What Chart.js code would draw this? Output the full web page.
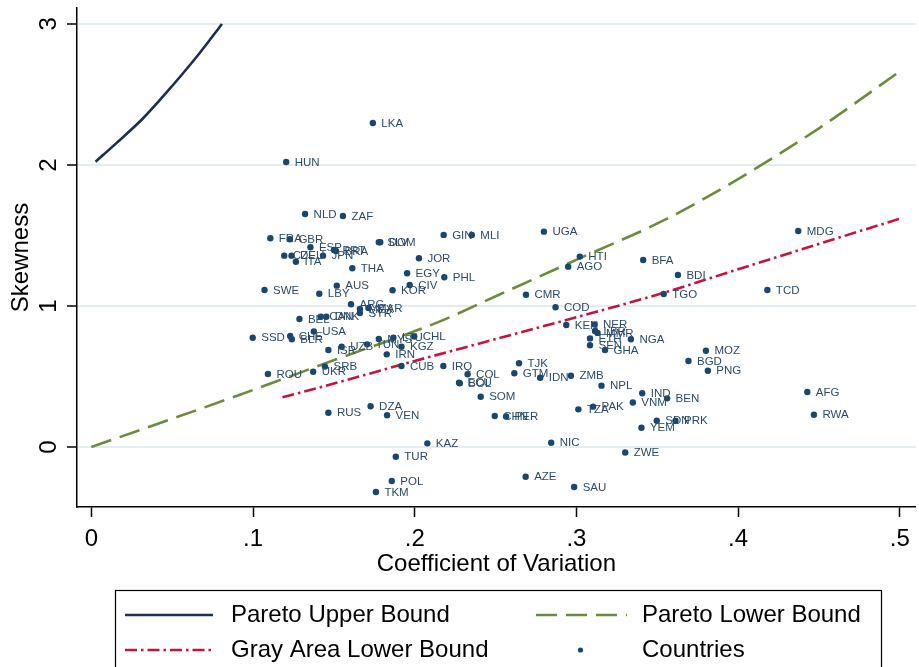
<!DOCTYPE html>
<html>
<head>
<meta charset="utf-8">
<title>Skewness vs Coefficient of Variation</title>
<script src="https://cdn.jsdelivr.net/npm/chart.js@4.4.1/dist/chart.umd.min.js"></script>
<style>
  html, body { margin: 0; padding: 0; background: #ffffff; }
  #wrap { width: 919px; height: 667px; position: relative; }
  canvas { display: block; }
</style>
</head>
<body>
<div id="wrap"><canvas id="chart" width="919" height="667"></canvas></div>
<script>
// ---- Country observations ----
const countryCodes = [
  'LKA','HUN','NLD','ZAF','FRA','GBR','ESP','PRT','BRA','SLV','DOM','GIN','MLI',
  'CZE','DEU','ITA','JPN','JOR','THA','EGY','PHL','AUS','CIV','SWE','KOR','LBY',
  'ARG','MEX','MAR','SYR','BEL','CAN','DNK','USA','SSD','CHE','BLR','MYS','LTU',
  'CHL','ISR','UZB','TUN','KGZ','IRN','SRB','CUB','IRQ','ROU','UKR','COL','ECU',
  'BOL','SOM','RUS','DZA','VEN','TJK','GTM','IDN','ZMB','NPL','CHN','PER','TZA',
  'PAK','VNM','KAZ','NIC','ZWE','TUR','AZE','SAU','POL','TKM','UGA','HTI','AGO',
  'BFA','BDI','CMR','TGO','COD','KEN','NER','LBR','MMR','ETH','SEN','GHA','NGA',
  'MOZ','BGD','PNG','IND','BEN','SDN','PRK','YEM','RWA','MDG','TCD','AFG'
];
const countryCV = [
  0.1741,0.1205,0.1322,0.1556,0.1107,0.1228,0.1355,0.1501,0.1513,0.1778,0.1787,0.2179,0.2353,
  0.1193,0.1238,0.1265,0.1433,0.2026,0.1614,0.1953,0.2183,0.1518,0.1969,0.1071,0.1863,0.1410,
  0.1606,0.1661,0.1714,0.1661,0.1287,0.1419,0.1453,0.1376,0.0998,0.1230,0.1240,0.1778,0.1868,
  0.1997,0.1466,0.1548,0.1706,0.1918,0.1827,0.1445,0.1918,0.2177,0.1092,0.1372,0.2327,0.2274,
  0.2279,0.2408,0.1466,0.1727,0.1829,0.2645,0.2616,0.2776,0.2966,0.3155,0.2495,0.2565,0.3012,
  0.3103,0.3349,0.2078,0.2844,0.3302,0.1883,0.2686,0.2986,0.1858,0.1760,0.2799,0.3021,0.2949,
  0.3413,0.3628,0.2688,0.3540,0.2871,0.2937,0.3112,0.3115,0.3131,0.3084,0.3084,0.3177,0.3337,
  0.3801,0.3693,0.3813,0.3407,0.3561,0.3497,0.3613,0.3402,0.4469,0.4372,0.4181,0.4428
];
const countrySkew = [
  2.298,2.021,1.652,1.638,1.480,1.473,1.416,1.397,1.390,1.452,1.452,1.504,1.504,
  1.357,1.357,1.314,1.357,1.338,1.267,1.232,1.204,1.144,1.149,1.113,1.111,1.087,
  1.012,0.979,0.986,0.950,0.908,0.924,0.924,0.819,0.775,0.787,0.764,0.766,0.775,
  0.784,0.688,0.711,0.728,0.711,0.657,0.570,0.574,0.574,0.518,0.534,0.516,0.456,
  0.452,0.356,0.243,0.289,0.225,0.594,0.523,0.491,0.505,0.435,0.220,0.216,0.267,
  0.286,0.316,0.026,0.030,-0.039,-0.069,-0.211,-0.284,-0.241,-0.319,1.527,1.350,1.279,
  1.326,1.220,1.080,1.085,0.991,0.865,0.869,0.823,0.809,0.770,0.721,0.688,0.764,
  0.683,0.610,0.541,0.381,0.345,0.186,0.186,0.136,0.229,1.532,1.113,0.390
];

// ---- Bound curves (CV, skewness) ----
const paretoUpperCV   = [0.0026, 0.0155, 0.0320, 0.0505, 0.0669, 0.0808];
const paretoUpperSkew = [2.023, 2.155, 2.331, 2.567, 2.792, 3.000];

const paretoLowerCV   = [0.0, 0.05, 0.0915, 0.1532, 0.2148, 0.2518, 0.302, 0.3545, 0.40, 0.45, 0.5013];
const paretoLowerSkew = [0.0, 0.20, 0.369, 0.629, 0.887, 1.078, 1.338, 1.610, 1.900, 2.260, 2.674];

const grayLowerCV   = [0.1182, 0.15, 0.20, 0.25, 0.30, 0.35, 0.40, 0.45, 0.5013];
const grayLowerSkew = [0.352, 0.45, 0.61, 0.765, 0.92, 1.08, 1.26, 1.44, 1.624];

// ---- Axis ticks ----
const xTickValues = [0, 0.1, 0.2, 0.3, 0.4, 0.5];
const xTickLabels = ['0', '.1', '.2', '.3', '.4', '.5'];
const yTickValues = [0, 1, 2, 3];
const yTickLabels = ['0', '1', '2', '3'];

const FONT = '"Liberation Sans", Arial, Helvetica, sans-serif';
const toPoints = (xs, ys) => xs.map((x, i) => ({ x: x, y: ys[i] }));

const COLORS = {
  upper: '#1e2d52',
  lower: '#6e8b3d',
  gray:  '#c8143c',
  dots:  '#1a476f',
  text:  '#2b4b6c',
  grid:  '#e3ecf0'
};

// Text labels beside each country marker
const markerLabels = {
  id: 'markerLabels',
  afterDatasetsDraw(chart) {
    const ctx = chart.ctx;
    const meta = chart.getDatasetMeta(3);
    ctx.save();
    ctx.font = '11.5px ' + FONT;
    ctx.fillStyle = COLORS.text;
    ctx.textAlign = 'left';
    ctx.textBaseline = 'middle';
    meta.data.forEach((pt, i) => {
      ctx.fillText(countryCodes[i], pt.x + 8.5, pt.y + 0.5);
    });
    ctx.restore();
  }
};

// Boxed two-column key below the plot
const boxedKey = {
  id: 'boxedKey',
  afterDraw(chart) {
    const ctx = chart.ctx;
    const ds = chart.data.datasets;
    ctx.save();
    ctx.strokeStyle = '#000';
    ctx.lineWidth = 1.2;
    ctx.strokeRect(115.5, 590.5, 766, 100);

    const rows = [615, 650];
    const entries = [
      { d: ds[0], col: 0, row: 0 },
      { d: ds[1], col: 1, row: 0 },
      { d: ds[2], col: 0, row: 1 },
      { d: ds[3], col: 1, row: 1 }
    ];
    const sampleX = [[125, 213], [536, 627]];
    const textX = [231, 642];
    entries.forEach(e => {
      const y = rows[e.row];
      const [x0, x1] = sampleX[e.col];
      if (e.d.showLine) {
        ctx.beginPath();
        ctx.setLineDash(e.d.borderDash || []);
        ctx.strokeStyle = e.d.borderColor;
        ctx.lineWidth = e.d.borderWidth;
        ctx.moveTo(x0, y);
        ctx.lineTo(x1, y);
        ctx.stroke();
        ctx.setLineDash([]);
      } else {
        ctx.beginPath();
        ctx.fillStyle = e.d.backgroundColor;
        ctx.arc((x0 + x1) / 2 - 1, y, 2.6, 0, Math.PI * 2);
        ctx.fill();
      }
      ctx.fillStyle = '#000';
      ctx.font = '24px ' + FONT;
      ctx.textAlign = 'left';
      ctx.textBaseline = 'middle';
      ctx.fillText(e.d.label, textX[e.col], y);
    });
    ctx.restore();
  }
};

const chart = new Chart(document.getElementById('chart'), {
  type: 'scatter',
  data: {
    datasets: [
      {
        label: 'Pareto Upper Bound',
        data: toPoints(paretoUpperCV, paretoUpperSkew),
        showLine: true,
        borderColor: COLORS.upper,
        backgroundColor: COLORS.upper,
        borderWidth: 2.6,
        pointRadius: 0,
        cubicInterpolationMode: 'monotone',
        order: 3
      },
      {
        label: 'Pareto Lower Bound',
        data: toPoints(paretoLowerCV, paretoLowerSkew),
        showLine: true,
        borderColor: COLORS.lower,
        backgroundColor: COLORS.lower,
        borderWidth: 2.6,
        borderDash: [21, 9],
        pointRadius: 0,
        cubicInterpolationMode: 'monotone',
        order: 2
      },
      {
        label: 'Gray Area Lower Bound',
        data: toPoints(grayLowerCV, grayLowerSkew),
        showLine: true,
        borderColor: COLORS.gray,
        backgroundColor: COLORS.gray,
        borderWidth: 2.6,
        borderDash: [12, 4, 2.5, 4],
        pointRadius: 0,
        cubicInterpolationMode: 'monotone',
        order: 1
      },
      {
        label: 'Countries',
        data: toPoints(countryCV, countrySkew),
        showLine: false,
        backgroundColor: COLORS.dots,
        borderColor: COLORS.dots,
        borderWidth: 0,
        pointRadius: 3.2,
        pointHoverRadius: 3.2,
        order: 0
      }
    ]
  },
  options: {
    responsive: false,
    devicePixelRatio: 1,
    animation: false,
    events: [],
    layout: { padding: { top: 8, left: 0, right: 0, bottom: 0 } },
    plugins: {
      legend: { display: false },
      tooltip: { enabled: false },
      title: { display: false }
    },
    scales: {
      x: {
        type: 'linear',
        min: -0.00887,
        max: 0.5099,
        afterBuildTicks(scale) {
          scale.ticks = xTickValues.map(v => ({ value: v }));
        },
        afterFit(scale) {
          scale.height = 160;
          scale.paddingLeft = 0;
          scale.paddingRight = 0;
        },
        border: { display: true, color: '#000', width: 1.5 },
        grid: {
          display: true,
          drawOnChartArea: false,
          drawTicks: true,
          tickLength: 10,
          tickColor: '#000',
          tickWidth: 1.5
        },
        ticks: {
          color: '#000',
          font: { family: FONT, size: 24 },
          padding: 8,
          maxRotation: 0,
          minRotation: 0,
          callback(value) {
            const i = xTickValues.findIndex(v => Math.abs(v - value) < 1e-9);
            return i >= 0 ? xTickLabels[i] : '';
          }
        },
        title: {
          display: true,
          text: 'Coefficient of Variation',
          color: '#000',
          font: { family: FONT, size: 24 },
          padding: { top: 0, bottom: 88 }
        }
      },
      y: {
        type: 'linear',
        min: -0.4255,
        max: 3.113,
        afterBuildTicks(scale) {
          scale.ticks = yTickValues.map(v => ({ value: v }));
        },
        afterFit(scale) {
          scale.width = 77;
          scale.paddingTop = 0;
          scale.paddingBottom = 0;
        },
        border: { display: true, color: '#000', width: 1.5 },
        grid: {
          display: true,
          drawOnChartArea: true,
          drawTicks: true,
          tickLength: 10,
          color: COLORS.grid,
          lineWidth: 2,
          tickColor: '#000',
          tickWidth: 1.5
        },
        ticks: {
          color: '#000',
          font: { family: FONT, size: 24 },
          padding: 11,
          minRotation: 90,
          maxRotation: 90,
          crossAlign: 'center',
          callback(value) {
            const i = yTickValues.findIndex(v => Math.abs(v - value) < 1e-9);
            return i >= 0 ? yTickLabels[i] : '';
          }
        },
        title: {
          display: true,
          text: 'Skewness',
          color: '#000',
          font: { family: FONT, size: 24 },
          padding: { top: 7, bottom: 0 }
        }
      }
    }
  },
  plugins: [markerLabels, boxedKey]
});
</script>
</body>
</html>
